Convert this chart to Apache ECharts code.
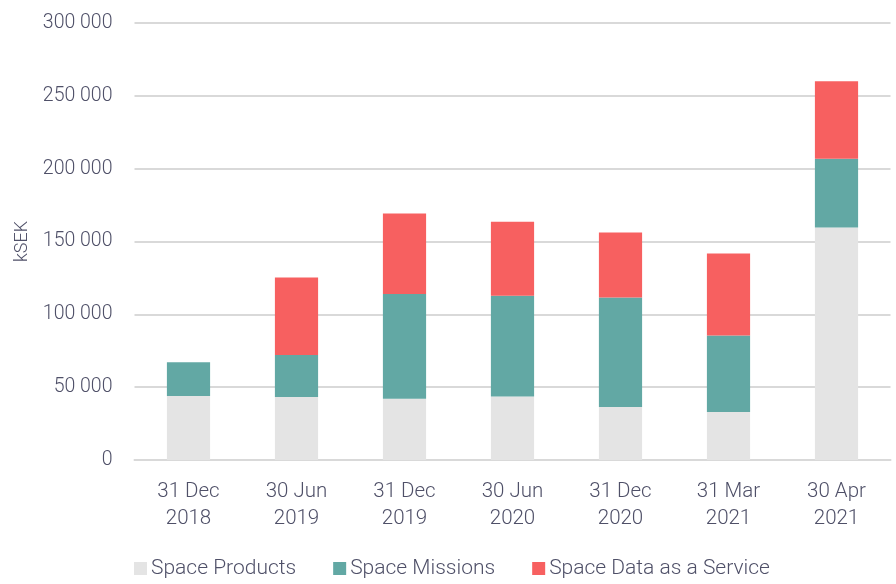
<!DOCTYPE html>
<html>
<head>
<meta charset="utf-8">
<script src="https://cdn.jsdelivr.net/npm/echarts@6/dist/echarts.min.js"></script>
<style>
  html, body { margin: 0; padding: 0; background: #fff; }
  #chart { width: 896px; height: 584px; }
</style>
</head>
<body>
<div id="chart"></div>
<script>
// categories and series (kSEK)
const categories = ['31 Dec\n2018', '30 Jun\n2019', '31 Dec\n2019', '30 Jun\n2020', '31 Dec\n2020', '31 Mar\n2021', '30 Apr\n2021'];
const spaceProducts = [44000, 43200, 42000, 43600, 36300, 32900, 159600];
const spaceMissions = [23100, 28900, 71900, 69200, 75300, 52500, 47200];
const spaceData = [0, 53200, 55300, 50700, 44600, 56400, 53200];
const yTicks = [0, 50000, 100000, 150000, 200000, 250000, 300000];

const textColor = '#4f5068';
const fontFamily = 'Roboto, "DejaVu Sans", sans-serif';

const chart = echarts.init(document.getElementById('chart'));

const makeSeries = (name, data, color) => ({
  name: name,
  type: 'bar',
  stack: 'total',
  data: data,
  barWidth: '40%',
  itemStyle: { color: color },
  emphasis: { disabled: true }
});

chart.setOption({
  animation: false,
  textStyle: { fontFamily: fontFamily },
  grid: { left: 134.5, right: 5.5, top: 23, bottom: 124, outerBoundsMode: 'none', containLabel: false },
  legend: {
    top: 553,
    left: 129,
    icon: 'rect',
    itemWidth: 13,
    itemHeight: 13,
    itemGap: 37,
    textStyle: { color: textColor, fontSize: 21, fontFamily: fontFamily, fontWeight: 300, padding: [0, 0, 0, -1] },
    data: ['Space Products', 'Space Missions', 'Space Data as a Service']
  },
  xAxis: {
    type: 'category',
    data: categories,
    axisLine: { lineStyle: { color: '#d9d9d9', width: 2 } },
    axisTick: { show: false },
    axisLabel: { color: textColor, fontSize: 20.5, lineHeight: 27, margin: 18, fontWeight: 300, interval: 0 }
  },
  yAxis: {
    type: 'value',
    min: yTicks[0],
    max: yTicks[yTicks.length - 1],
    interval: 50000,
    name: 'kSEK',
    nameLocation: 'middle',
    nameGap: 103,
    nameTextStyle: { color: textColor, fontSize: 18, fontWeight: 300 },
    axisLine: { show: false },
    axisTick: { show: false },
    splitLine: { lineStyle: { color: '#d9d9d9', width: 2 } },
    axisLabel: {
      color: textColor,
      fontSize: 19.5,
      margin: 22,
      fontWeight: 300,
      formatter: v => String(v).replace(/\B(?=(\d{3})+(?!\d))/g, ' ')
    }
  },
  series: [
    makeSeries('Space Products', spaceProducts, '#e4e4e4'),
    makeSeries('Space Missions', spaceMissions, '#62a8a4'),
    makeSeries('Space Data as a Service', spaceData, '#f76060')
  ]
});
</script>
</body>
</html>
